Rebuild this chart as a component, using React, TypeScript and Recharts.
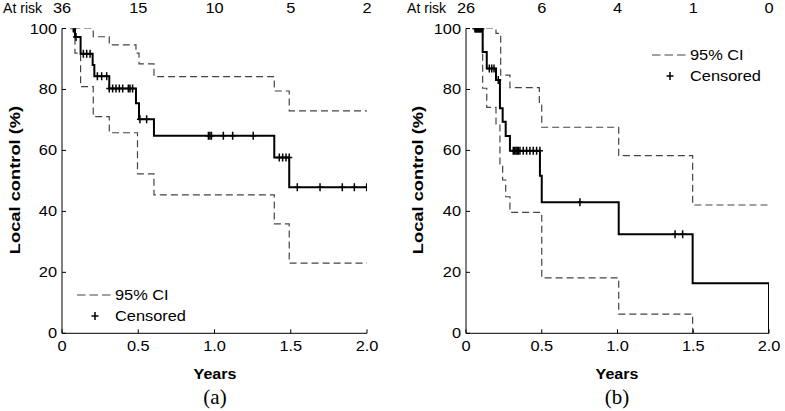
import React from 'react';
import { ComposedChart, Line, Scatter, XAxis, YAxis, Legend } from 'recharts';

const FONT = '"Liberation Sans", Arial, Helvetica, sans-serif';
const SERIF = '"Liberation Serif", "Times New Roman", serif';
const SX = 1.17;

const xTicks = [0, 0.5, 1, 1.5, 2];
const yTicks = [0, 20, 40, 60, 80, 100];
const atRiskA = [36, 15, 10, 5, 2];
const atRiskB = [26, 6, 4, 1, 0];

// Panel (a)
const kmATimes = [0.074, 0.085, 0.122, 0.201, 0.212, 0.31, 0.485, 0.505, 0.603, 1.392, 1.49, 2.0];
const kmAValues = [100, 97.2, 91.7, 88.0, 84.3, 80.3, 75.5, 70.2, 64.8, 57.7, 47.9, 47.9];
const upATimes = [0.074, 0.205, 0.31, 0.485, 0.505, 0.603, 1.392, 1.49, 2.0];
const upAValues = [100, 97.3, 94.6, 91.9, 88.4, 84.2, 79.5, 73.0, 73.0];
const loATimes = [0.074, 0.085, 0.122, 0.205, 0.31, 0.495, 0.603, 1.392, 1.49, 2.0];
const loAValues = [100, 91.9, 80.9, 71.1, 65.8, 52.3, 45.4, 35.9, 23.0, 23.0];
const censATimes = [0.074, 0.092, 0.14, 0.162, 0.184, 0.232, 0.26, 0.293, 0.31, 0.332, 0.354, 0.376, 0.398, 0.435, 0.446, 0.463, 0.511, 0.555, 0.96, 0.97, 0.98, 1.058, 1.119, 1.254, 1.425, 1.447, 1.469, 1.49, 1.543, 1.692, 1.838, 1.917, 1.998];
const censAValues = [100, 97.2, 91.7, 91.7, 91.7, 84.3, 84.3, 84.3, 80.3, 80.3, 80.3, 80.3, 80.3, 80.3, 80.3, 80.3, 70.2, 70.2, 64.8, 64.8, 64.8, 64.8, 64.8, 64.8, 57.7, 57.7, 57.7, 57.7, 47.9, 47.9, 47.9, 47.9, 47.9];

// Panel (b)
const kmBTimes = [0.059, 0.11, 0.137, 0.198, 0.224, 0.242, 0.262, 0.29, 0.488, 0.5, 1.008, 1.496, 2.0, 2.0];
const kmBValues = [100, 92.3, 86.9, 83.1, 73.8, 69.4, 64.7, 59.9, 51.7, 43.0, 32.5, 16.4, 16.4, 0];
const upBTimes = [0.059, 0.198, 0.229, 0.29, 0.484, 0.5, 1.008, 1.496, 2.0];
const upBValues = [100, 98.4, 84.7, 80.6, 74.9, 67.6, 58.3, 42.1, 42.1];
const loBTimes = [0.059, 0.11, 0.137, 0.198, 0.224, 0.242, 0.262, 0.29, 0.5, 1.008, 1.496];
const loBValues = [100, 80.4, 74.1, 68.3, 55.2, 50.3, 44.8, 39.7, 18.2, 6.3, 0];
const censBTimes = [0.059, 0.064, 0.069, 0.074, 0.079, 0.084, 0.089, 0.094, 0.099, 0.104, 0.154, 0.17, 0.185, 0.213, 0.312, 0.322, 0.33, 0.338, 0.345, 0.356, 0.378, 0.4, 0.422, 0.444, 0.466, 0.488, 0.752, 1.38, 1.43];
const censBValues = [100, 100, 100, 100, 100, 100, 100, 100, 100, 100, 86.9, 86.9, 86.9, 83.1, 59.9, 59.9, 59.9, 59.9, 59.9, 59.9, 59.9, 59.9, 59.9, 59.9, 59.9, 59.9, 43.0, 32.5, 32.5];

const zip = (ts: number[], vs: number[]) => ts.map((t, i) => ({ t, v: vs[i] }));

const CensorMark = (props: any) => {
  const { cx, cy } = props;
  if (cx == null || cy == null) return null;
  return (
    <g>
      <line x1={cx} x2={cx} y1={cy - 4} y2={cy + 4} stroke="#000" strokeWidth={1.5} />
      <line x1={cx - 3} x2={cx + 3} y1={cy} y2={cy} stroke="#000" strokeWidth={1.5} />
    </g>
  );
};

const fmtX = (v: number) => (v === 0 ? '0' : v.toFixed(1));

type PanelProps = {
  left: number;
  width: number;
  marginLeft: number;
  marginRight: number;
  km: { t: number; v: number }[];
  upper: { t: number; v: number }[];
  lower: { t: number; v: number }[];
  cens: { t: number; v: number }[];
  atRisk: number[];
  letter: string;
  yLabelX: number;
  xLabelX: number;
  legend: { left: number; top: number };
};

const Panel = (p: PanelProps) => {
  const bottomTick = (props: any) => {
    const { x, y, payload } = props;
    return (
      <g>
        <line x1={x} x2={x} y1={y} y2={y - 4} stroke="#000" strokeWidth={1} />
        <text transform={`translate(${x},${y + 18}) scale(${SX},1)`} textAnchor="middle" fontSize={14} fontFamily={FONT} fill="#000">
          {fmtX(payload.value)}
        </text>
      </g>
    );
  };
  const topTick = (props: any) => {
    const { x, y, index } = props;
    return (
      <g>
        {index === 0 && (
          <text x={x - 20} y={y - 16} textAnchor="end" fontSize={14} fontFamily={FONT} fill="#000">
            At risk
          </text>
        )}
        <text transform={`translate(${x},${y - 16}) scale(${SX},1)`} textAnchor="middle" fontSize={14} fontFamily={FONT} fill="#000">
          {p.atRisk[index]}
        </text>
      </g>
    );
  };
  const yTick = (props: any) => {
    const { x, y, payload } = props;
    return (
      <g>
        <line x1={x} x2={x + 4} y1={y} y2={y} stroke="#000" strokeWidth={1} />
        <text transform={`translate(${x - 5},${y + 5}) scale(${SX},1)`} textAnchor="end" fontSize={14} fontFamily={FONT} fill="#000">
          {payload.value}
        </text>
      </g>
    );
  };
  const xLabel = () => (
    <g>
      <text transform={`translate(${p.xLabelX},379) scale(1.07,1)`} textAnchor="middle" fontSize={15} fontWeight="bold" fontFamily={FONT} fill="#000">
        Years
      </text>
      <text x={p.xLabelX} y={404} textAnchor="middle" fontSize={21} fontFamily={SERIF} fill="#000">
        {p.letter}
      </text>
    </g>
  );
  const yLabel = () => (
    <text transform={`translate(${p.yLabelX},180) rotate(-90) scale(1.22,1)`} textAnchor="middle" fontSize={15} fontWeight="bold" fontFamily={FONT} fill="#000">
      Local control (%)
    </text>
  );
  const legendContent = () => (
    <svg width={150} height={50} style={{ overflow: 'visible' }}>
      <line x1={7} x2={43} y1={15} y2={15} stroke="#444" strokeWidth={1.2} strokeDasharray="8.5 4" />
      <text transform={`translate(45,20) scale(${SX},1)`} fontSize={14} fontFamily={FONT} fill="#000">95% CI</text>
      <line x1={25} x2={25} y1={32} y2={40} stroke="#000" strokeWidth={1.5} />
      <line x1={21.5} x2={28.5} y1={36} y2={36} stroke="#000" strokeWidth={1.5} />
      <text transform={`translate(45,41) scale(${SX},1)`} fontSize={14} fontFamily={FONT} fill="#000">Censored</text>
    </svg>
  );
  return (
    <div style={{ position: 'absolute', left: p.left, top: 0, width: p.width, height: 411 }}>
      <ComposedChart width={p.width} height={411} margin={{ top: 27.5, left: p.marginLeft - 1, right: p.marginRight, bottom: 76.7 }}>
        <XAxis
          dataKey="t"
          type="number"
          domain={[0, 2]}
          ticks={xTicks}
          allowDataOverflow
          height={1}
          tickSize={0}
          tickMargin={0}
          tickLine={false}
          axisLine={{ stroke: '#000', strokeWidth: 1 }}
          tick={bottomTick}
          label={xLabel}
        />
        <XAxis
          xAxisId="top"
          orientation="top"
          dataKey="t"
          type="number"
          domain={[0, 2]}
          ticks={xTicks}
          allowDataOverflow
          height={1}
          tickSize={0}
          tickMargin={0}
          tickLine={false}
          axisLine={false}
          tick={topTick}
        />
        <YAxis
          type="number"
          domain={[0, 100]}
          ticks={yTicks}
          allowDataOverflow
          width={1}
          tickSize={0}
          tickMargin={0}
          tickLine={false}
          axisLine={{ stroke: '#000', strokeWidth: 1 }}
          tick={yTick}
          label={yLabel}
        />
        <Legend
          layout="horizontal"
          verticalAlign="middle"
          align="center"
          content={legendContent}
          wrapperStyle={{ position: 'absolute', left: p.legend.left, top: p.legend.top, width: 150, height: 50 }}
        />
        <Line data={p.upper} dataKey="v" type="stepAfter" stroke="#444" strokeWidth={1.2} strokeDasharray="7 4" dot={false} activeDot={false} isAnimationActive={false} legendType="none" />
        <Line data={p.lower} dataKey="v" type="stepAfter" stroke="#444" strokeWidth={1.2} strokeDasharray="7 4" dot={false} activeDot={false} isAnimationActive={false} legendType="none" />
        <Line data={p.km} dataKey="v" type="stepAfter" stroke="#000" strokeWidth={2} dot={false} activeDot={false} isAnimationActive={false} legendType="none" />
        <Scatter data={p.cens} dataKey="v" shape={CensorMark} isAnimationActive={false} legendType="none" />
      </ComposedChart>
    </div>
  );
};

export default function App() {
  return (
    <div style={{ position: 'absolute', left: 0, top: 0, width: 785, height: 411, background: '#fff' }}>
      <Panel
        left={0}
        width={392}
        marginLeft={62}
        marginRight={25}
        km={zip(kmATimes, kmAValues)}
        upper={zip(upATimes, upAValues)}
        lower={zip(loATimes, loAValues)}
        cens={zip(censATimes, censAValues)}
        atRisk={atRiskA}
        letter="(a)"
        yLabelX={20}
        xLabelX={215}
        legend={{ left: 70, top: 280 }}
      />
      <Panel
        left={400}
        width={385}
        marginLeft={66}
        marginRight={16}
        km={zip(kmBTimes, kmBValues)}
        upper={zip(upBTimes, upBValues)}
        lower={zip(loBTimes, loBValues)}
        cens={zip(censBTimes, censBValues)}
        atRisk={atRiskB}
        letter="(b)"
        yLabelX={23}
        xLabelX={217}
        legend={{ left: 245, top: 40 }}
      />
    </div>
  );
}
